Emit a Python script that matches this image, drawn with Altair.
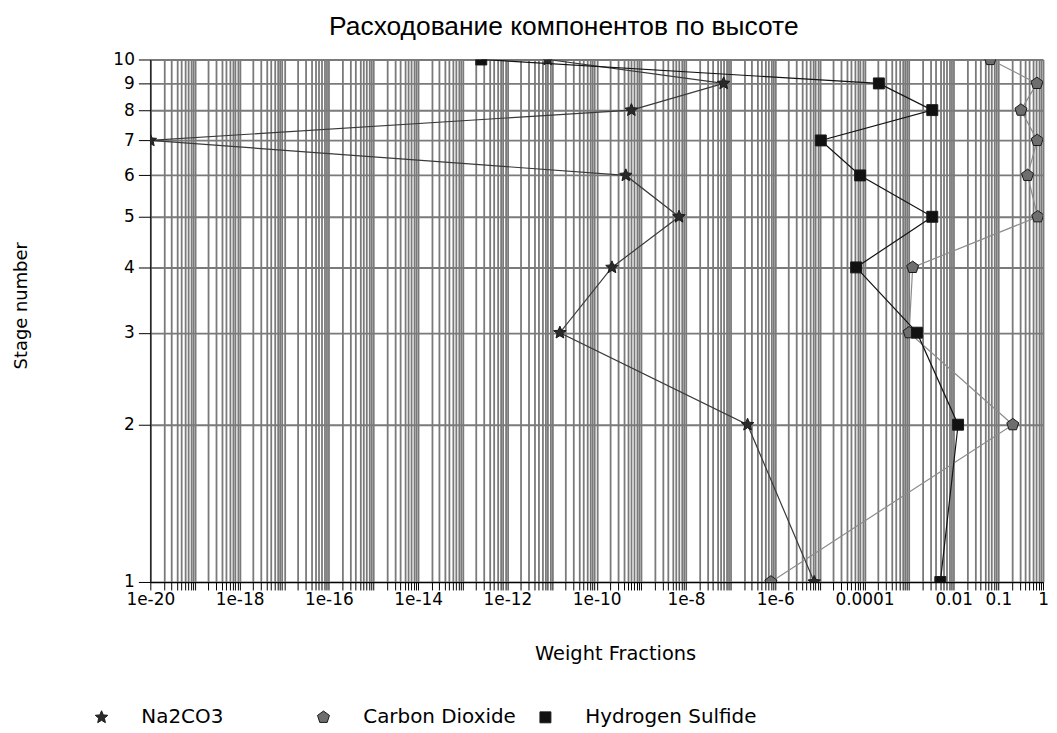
import json
import altair as alt
import pandas as pd

# ---- data ----
stages = [1, 2, 3, 4, 5, 6, 7, 8, 9, 10]
na2co3 = [7.5e-6, 2.4e-7, 1.5e-11, 2.2e-10, 7e-9, 4.5e-10, 1e-20, 6e-10, 7e-8, 8e-12]
carbon_dioxide = [8e-7, 0.21, 1.0e-3, 1.2e-3, 0.76, 0.45, 0.74, 0.32, 0.73, 0.066]
hydrogen_sulfide = [5e-3, 0.0125, 1.5e-3, 6.5e-5, 3.3e-3, 8e-5, 1.05e-5, 3.3e-3, 2.1e-4, 2.6e-13]

series_names = ["Na2CO3", "Carbon Dioxide", "Hydrogen Sulfide"]
x_label_exponents = [-20, -18, -16, -14, -12, -10, -8, -6, -4, -2, -1, 0]
x_label_texts = ["1e-20", "1e-18", "1e-16", "1e-14", "1e-12", "1e-10",
                 "1e-8", "1e-6", "0.0001", "0.01", "0.1", "1"]
y_tick_values = [1, 2, 3, 4, 5, 6, 7, 8, 9, 10]

# styles
fill_colors = ["#2a2a2a", "#6e6e6e", "#111111"]
# line stroke scale uses a different domain order (keeps its disabled legend separate)
line_order = ["Hydrogen Sulfide", "Carbon Dioxide", "Na2CO3"]
line_colors = ["#141414", "#8c8c8c", "#3a3a3a"]
star = ("M0,-1.2L0.323,-0.445L1.141,-0.371L0.523,0.170L0.705,0.971L0,0.550"
        "L-0.705,0.971L-0.523,0.170L-1.141,-0.371L-0.323,-0.445Z")
pentagon = "M0,-1.15L1.094,-0.355L0.676,0.930L-0.676,0.930L-1.094,-0.355Z"
shapes = [star, pentagon, "square"]

rows = []
for name, vals in zip(series_names, [na2co3, carbon_dioxide, hydrogen_sulfide]):
    for s, v in zip(stages, vals):
        rows.append({"series": name, "line_series": name, "stage": s, "value": v})
df = pd.DataFrame(rows)

# log grid positions (1..9 x 10^k)
x_grid_values = [float(f"{m}e{k}") for k in range(-20, 0) for m in range(1, 10)] + [1.0]

exps = json.dumps(x_label_exponents)
texts = json.dumps(x_label_texts)
e = "round(log(datum.value)/LN10)"
label_expr = (f"abs(log(datum.value)/LN10 - {e}) < 0.001 && indexof({exps}, {e}) >= 0 "
              f"? {texts}[indexof({exps}, {e})] : ''")

FONT = "DejaVu Sans"
GRID = "#7a7a7a"

x_enc = alt.X(
    "value:Q",
    scale=alt.Scale(type="log", domain=[1e-20, 1], nice=False),
    axis=alt.Axis(
        values=x_grid_values, labelExpr=label_expr, grid=True,
        gridColor=GRID, gridWidth=1.8, gridOpacity=1,
        tickColor="black", tickSize=8, tickWidth=1,
        domainColor="black", domainWidth=1,
        labelOverlap=False, labelFlush=False, labelBound=False,
        labelFont=FONT, labelFontSize=17, labelColor="black", labelPadding=2,
        title="Weight Fractions", titleFont=FONT, titleFontSize=19.5,
        titleFontWeight="normal", titleColor="black",
        titleX=467, titleY=72, titleBaseline="middle", titleAnchor="middle",
        titleAlign="center",
    ),
)
y_enc = alt.Y(
    "stage:Q",
    scale=alt.Scale(type="log", domain=[1, 10], nice=False),
    axis=alt.Axis(
        values=y_tick_values, format="d", grid=True,
        gridColor=GRID, gridWidth=1.8, gridOpacity=1,
        tickColor="black", tickSize=12, tickWidth=1,
        domainColor="black", domainWidth=1,
        labelFont=FONT, labelFontSize=17, labelColor="black", labelPadding=4,
        labelOverlap=False, labelFlush=False, labelBound=False,
        title="Stage number", titleFont=FONT, titleFontSize=18,
        titleFontWeight="normal", titleColor="black",
        titleX=-129, titleY=247, titleAngle=-90, titleBaseline="middle",
        titleAlign="center",
    ),
)

legend = alt.Legend(
    title="", orient="none", direction="horizontal", columns=3,
    legendX=-59, legendY=651, gridAlign="all", columnPadding=0,
    labelOffset=30, labelFont=FONT, labelFontSize=20, labelColor="black",
    symbolSize=121, symbolStrokeColor="#1a1a1a", symbolStrokeWidth=1,
    labelLimit=400, padding=0,
)

lines = alt.Chart(df).mark_line(clip=True, strokeWidth=1.2).encode(
    x=x_enc, y=y_enc,
    stroke=alt.Stroke("line_series:N",
                      scale=alt.Scale(domain=line_order, range=line_colors),
                      legend=None),
    detail="line_series:N",
    order="stage:Q",
)

points = alt.Chart(df).mark_point(
    clip=True, filled=True, size=121, opacity=1, stroke="#1a1a1a", strokeWidth=1
).encode(
    x=x_enc, y=y_enc,
    color=alt.Color("series:N", scale=alt.Scale(domain=series_names, range=fill_colors),
                    legend=legend),
    shape=alt.Shape("series:N", scale=alt.Scale(domain=series_names, range=shapes),
                    legend=legend),
)

chart = alt.layer(lines, points).properties(
    width=897, height=525,
    padding={"left": 143, "top": 50, "right": 6, "bottom": 150},
    autosize=alt.AutoSizeParams(type="none"),
    title=alt.TitleParams(
        text="Расходование компонентов по высоте", font="Liberation Sans",
        fontSize=26.5, fontWeight="normal", color="black", anchor="middle",
        dx=-33, offset=10,
    ),
).configure_view(stroke="#6a6a6a", strokeWidth=1).configure(background="white")

chart.save("out.html", embed_options={"renderer": "svg", "actions": False})
